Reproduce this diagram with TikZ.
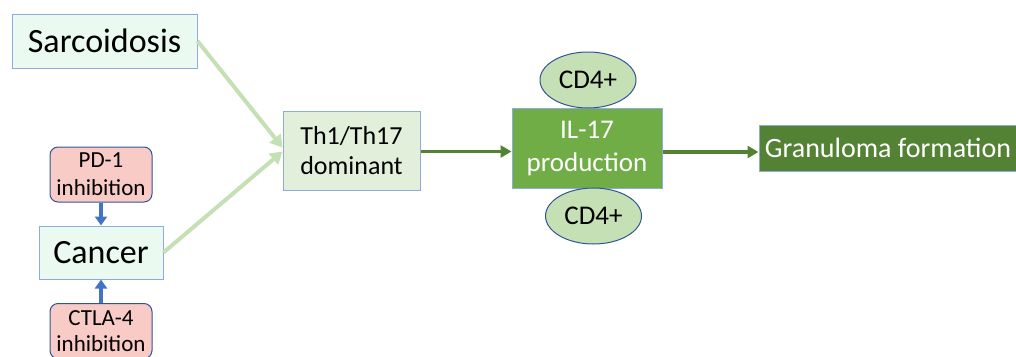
\documentclass[tikz,border=0pt]{standalone}
\usepackage{fontspec}
\setmainfont{Carlito}
\usetikzlibrary{arrows.meta,shapes.geometric}
\definecolor{boxblue}{HTML}{8FAADC}
\definecolor{darkblue}{HTML}{2F5597}
\definecolor{arrblue}{HTML}{4472C4}
\definecolor{lightgreen}{HTML}{C5E0B4}
\definecolor{midgreen}{HTML}{70AD47}
\definecolor{darkgreen}{HTML}{548235}
\definecolor{paleaqua}{HTML}{EAFAF1}
\definecolor{palegreen}{HTML}{E2EFDA}
\definecolor{pink}{HTML}{F8CBC6}
\begin{document}
\begin{tikzpicture}[x=1pt,y=1pt,
  box/.style={draw=boxblue, line width=1pt, inner sep=0pt, align=center},
  pinkbox/.style={draw=darkblue, fill=pink, line width=1pt, rounded corners=8pt, inner sep=0pt, align=center, minimum width=102pt, minimum height=55pt, font=\fontsize{23}{28}\selectfont},
  cell/.style={ellipse, draw=darkblue, fill=lightgreen, line width=1pt, inner sep=0pt, minimum width=96pt, minimum height=56pt, font=\fontsize{27}{30}\selectfont},
  lgarrow/.style={draw=lightgreen, line width=4pt, -{Triangle[length=12pt,width=14pt]}},
  dgarrow/.style={draw=darkgreen, line width=3.5pt, -{Triangle[length=11pt,width=12pt]}},
  barrow/.style={draw=arrblue, line width=3.5pt, -{Triangle[length=9pt,width=12pt]}}
]
\useasboundingbox (0,0) rectangle (1016,-356);
\node[box, fill=paleaqua, minimum width=185pt, minimum height=54pt, font=\fontsize{34}{38}\selectfont] (sarc) at (104.5,-41) {Sarcoidosis};
\node[pinkbox] (pd1) at (101,-174.5) {PD-1\\inhibition};
\node[box, fill=paleaqua, minimum width=124pt, minimum height=53pt, font=\fontsize{34}{38}\selectfont] (cancer) at (101,-252.5) {Cancer};
\node[pinkbox, anchor=north, font=\fontsize{23}{26}\selectfont] (ctla) at (101,-303) {CTLA-4\\inhibition};
\node[box, fill=palegreen, minimum width=137pt, minimum height=79pt, font=\fontsize{26}{30}\selectfont] (th) at (351.5,-150.5) {Th1/Th17\\dominant};
\node[box, fill=midgreen, text=white, minimum width=150pt, minimum height=80pt, font=\fontsize{27}{33}\selectfont] (il) at (587,-148) {IL-17\\production};
\node[cell] (cdtop) at (588,-80) {CD4+};
\node[cell] (cdbot) at (593.5,-216) {CD4+};
\node[box, fill=darkgreen, text=white, minimum width=258pt, minimum height=46pt, font=\fontsize{28}{32}\selectfont] (gran) at (888,-148) {Granuloma formation};
\draw[lgarrow] (sarc.east) -- ([yshift=3pt]th.west);
\draw[lgarrow] (cancer.east) -- ([yshift=-1pt]th.west);
\draw[barrow] (pd1.south) -- (cancer.north);
\draw[barrow] (ctla.north) -- (cancer.south);
\draw[dgarrow] ([yshift=-1pt]th.east) -- ([yshift=-3.5pt]il.west);
\draw[dgarrow] ([yshift=-4pt]il.east) -- ([yshift=-4pt]gran.west);
\end{tikzpicture}
\end{document}
